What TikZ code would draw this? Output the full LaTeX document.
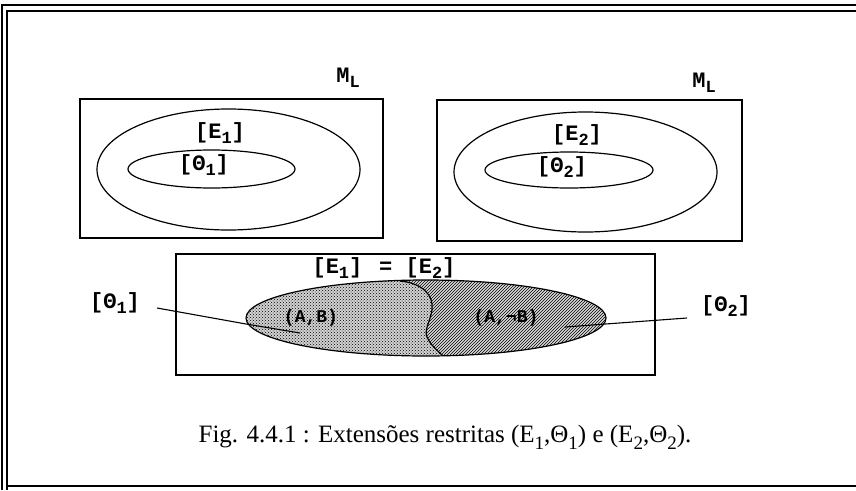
\documentclass[tikz,border=0pt]{standalone}
\usepackage{fontspec}
\setmainfont{Liberation Serif}
\newfontfamily\labfont{Liberation Mono}
\usetikzlibrary{patterns,shapes.geometric}
\newcommand{\lsub}[1]{\raisebox{-0.45ex}{\fontsize{17}{17}\selectfont #1}}
\newcommand{\csub}[1]{\raisebox{-0.28em}{\fontsize{19}{19}\selectfont #1}}
\begin{document}
\begin{tikzpicture}[x=1pt,y=-1pt,
  lab/.style={font=\labfont\bfseries\fontsize{22}{22}\selectfont, inner sep=0pt},
  mlab/.style={font=\labfont\bfseries\fontsize{22}{22}\selectfont, inner sep=0pt},
  frame/.style={draw, line width=1.4pt},
  ell/.style={ellipse, draw, line width=1.2pt, inner sep=0pt},
  box/.style={draw, line width=1.3pt},
  lead/.style={draw, line width=1.1pt}]
\useasboundingbox (0,0) rectangle (856,490);
% outer double frame
\draw[frame] (2,490) -- (2,5) -- (856,5);
\draw[frame] (7,490) -- (7,11) -- (856,11);
\draw[frame] (7,486) -- (856,486);
% top-left panel
\draw[box] (80,99) rectangle (383,238);
\node[ell, minimum width=263pt, minimum height=121pt] (E1) at (228.5,169.5) {};
\node[ell, minimum width=167pt, minimum height=38pt] (T1) at (211.5,169) {};
\node[lab] (lE1) at (220,133) {[E\lsub{1}]};
\node[lab] (lT1) at (204,165) {[Θ\lsub{1}]};
\node[mlab] (ML1) at (348,78) {M\lsub{L}};
% top-right panel
\draw[box] (437,100) rectangle (742,241);
\node[ell, minimum width=263pt, minimum height=120pt] (E2) at (585.5,172) {};
\node[ell, minimum width=168pt, minimum height=36pt] (T2) at (569,170) {};
\node[lab] (lE2) at (577,135) {[E\lsub{2}]};
\node[lab] (lT2) at (562,167) {[Θ\lsub{2}]};
\node[mlab] (ML2) at (704,83) {M\lsub{L}};
% bottom panel
\draw[box] (176,254) rectangle (655,375);
\begin{scope}
  \clip (426,318) ellipse [x radius=180pt, y radius=38pt];
  \fill[gray!35] (240,270) rectangle (620,370);
  \fill[pattern=crosshatch dots] (240,270) -- (400,270) -- (400,281)
     .. controls (422,283) and (434,295) .. (432,310)
     .. controls (430,322) and (424,330) .. (427,337)
     .. controls (432,348) and (442,354) .. (447,360) -- (240,370) -- cycle;
  \fill[gray!30] (620,270) -- (400,270) -- (400,281)
     .. controls (422,283) and (434,295) .. (432,310)
     .. controls (430,322) and (424,330) .. (427,337)
     .. controls (432,348) and (442,354) .. (447,360) -- (620,370) -- cycle;
  \fill[pattern=north east lines] (620,270) -- (400,270) -- (400,281)
     .. controls (422,283) and (434,295) .. (432,310)
     .. controls (430,322) and (424,330) .. (427,337)
     .. controls (432,348) and (442,354) .. (447,360) -- (620,370) -- cycle;
  \draw[line width=1.2pt] (400,281)
     .. controls (422,283) and (434,295) .. (432,310)
     .. controls (430,322) and (424,330) .. (427,337)
     .. controls (432,348) and (442,354) .. (447,360);
\end{scope}
\node[ell, minimum width=360pt, minimum height=76pt] (B) at (426,318) {};
\node[lab] (lEE) at (384,268) {[E\lsub{1}]\, = [E\lsub{2}]};
\node[lab, font=\labfont\bfseries\fontsize{18}{18}\selectfont] (AB) at (311,318) {(A,B)};
\node[lab, font=\labfont\bfseries\fontsize{18}{18}\selectfont] (ANB) at (506,318) {(A,¬B)};
\node[lab] (lT1b) at (115,303) {[Θ\lsub{1}]};
\node[lab] (lT2b) at (726,306) {[Θ\lsub{2}]};
\coordinate (p1) at (300,333);
\coordinate (p2) at (565,327);
\coordinate (q1) at (157,308);
\coordinate (q2) at (687,318);
\draw[lead] (q1) -- (246,324) -- (p1);
\draw[lead] (q2) -- (p2);
% caption
\node[anchor=base, inner sep=0pt] (cap) at (445,442) {\fontsize{25}{25}\selectfont Fig. 4.4.1 : Extensões restritas (E\csub{1},Θ\csub{1}) e (E\csub{2},Θ\csub{2}).};
\end{tikzpicture}
\end{document}
